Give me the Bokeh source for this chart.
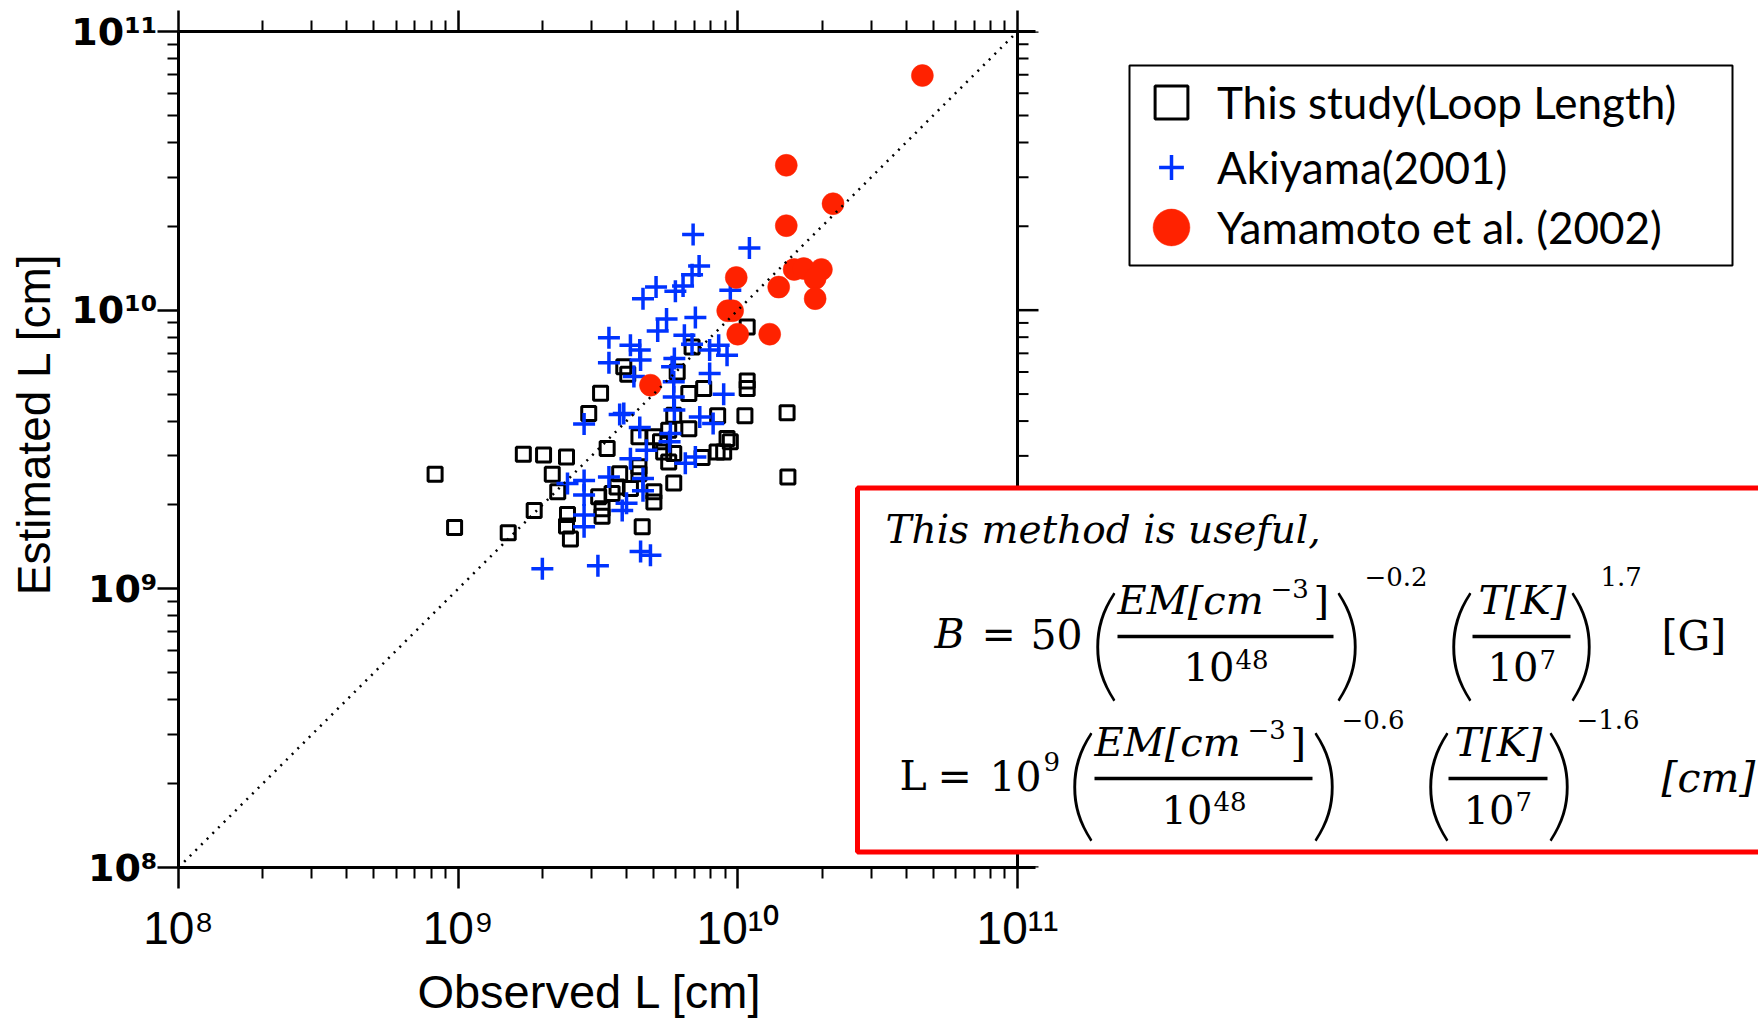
from bokeh.plotting import figure
from bokeh.models import (LogAxis, FixedTicker, CustomJSTickFormatter, Label, BoxAnnotation,
                          Legend, LegendItem, Range1d, Span)
from bokeh.embed import file_html
from bokeh.resources import INLINE

# ---------------- data ----------------
study_obs = [8.27e8, 9.71e8, 1.51e9, 1.87e9, 1.71e9, 2.02e9, 2.44e9, 2.17e9, 2.27e9, 2.46e9,
             2.44e9, 2.52e9, 2.93e9, 3.41e9, 3.18e9, 3.27e9, 3.27e9, 3.78e9, 3.70e9, 3.55e9,
             4.13e9, 4.55e9, 5.01e9, 5.01e9, 4.43e9, 4.43e9, 4.43e9, 5.01e9, 5.29e9, 5.43e9,
             5.90e9, 5.66e9, 5.90e9, 8.43e9, 8.90e9, 9.40e9, 7.45e9, 3.91e9, 4.04e9, 3.23e9,
             6.07e9, 6.86e9, 6.68e9, 7.55e9, 8.47e9, 1.06e10, 1.08e10, 1.08e10, 1.08e10, 5.90e9,
             6.68e9, 5.66e9, 9.15e9, 1.50e10, 1.51e10]
study_est = [2.58e9, 1.66e9, 1.59e9, 1.91e9, 3.04e9, 3.02e9, 2.97e9, 2.58e9, 2.23e9, 1.85e9,
             1.68e9, 1.51e9, 4.26e9, 3.19e9, 2.14e9, 1.94e9, 1.82e9, 2.59e9, 2.32e9, 2.20e9,
             2.29e9, 1.67e9, 2.23e9, 2.05e9, 2.59e9, 2.74e9, 3.51e9, 3.51e9, 3.37e9, 3.10e9,
             3.06e9, 2.85e9, 2.40e9, 3.10e9, 3.10e9, 3.37e9, 2.96e9, 6.26e9, 5.89e9, 5.03e9,
             6.00e9, 7.38e9, 5.02e9, 5.23e9, 4.18e9, 4.18e9, 5.57e9, 5.23e9, 8.71e9, 4.20e9,
             3.75e9, 3.71e9, 3.46e9, 4.28e9, 2.52e9]

aki_obs = [6.92e9, 1.10e10, 7.27e9, 6.86e9, 6.37e9, 5.98e9, 5.10e9, 4.58e9, 9.40e9, 5.56e9,
           7.05e9, 5.17e9, 3.46e9, 4.13e9, 4.46e9, 6.44e9, 6.86e9, 8.54e9, 7.93e9, 9.15e9,
           3.46e9, 4.49e9, 5.93e9, 5.82e9, 4.25e9, 7.93e9, 5.90e9, 8.90e9, 5.90e9, 5.93e9,
           3.91e9, 3.78e9, 7.31e9, 8.16e9, 2.82e9, 4.46e9, 5.74e9, 5.70e9, 4.71e9, 4.13e9,
           7.05e9, 6.49e9, 2.46e9, 2.82e9, 2.82e9, 2.82e9, 2.82e9, 3.46e9, 4.58e9, 4.58e9,
           4.00e9, 3.86e9, 4.49e9, 4.87e9, 2.00e9, 3.16e9]
aki_est = [1.87e10, 1.67e10, 1.44e10, 1.34e10, 1.22e10, 1.17e10, 1.21e10, 1.10e10, 1.18e10, 9.29e9,
           9.42e9, 8.41e9, 7.97e9, 7.48e9, 7.19e9, 8.13e9, 7.55e9, 7.48e9, 7.19e9, 6.89e9,
           6.47e9, 6.62e9, 6.71e9, 6.26e9, 5.78e9, 5.93e9, 5.53e9, 4.99e9, 4.88e9, 4.38e9,
           4.26e9, 4.22e9, 4.14e9, 3.92e9, 3.90e9, 3.79e9, 3.61e9, 3.37e9, 3.14e9, 2.93e9,
           2.97e9, 2.82e9, 2.39e9, 2.45e9, 2.17e9, 1.84e9, 1.67e9, 2.52e9, 2.49e9, 2.25e9,
           2.03e9, 1.91e9, 1.36e9, 1.32e9, 1.18e9, 1.21e9]

yama_obs = [4.57e10, 1.49e10, 1.49e10, 2.19e10, 9.87e9, 1.40e10, 1.59e10, 1.72e10, 1.99e10,
            1.89e10, 1.89e10, 9.20e9, 9.58e9, 9.99e9, 1.30e10, 4.87e9]
yama_est = [6.95e10, 3.31e10, 2.01e10, 2.41e10, 1.31e10, 1.21e10, 1.40e10, 1.41e10, 1.40e10,
            1.30e10, 1.10e10, 9.95e9, 9.95e9, 8.20e9, 8.20e9, 5.38e9]

one_to_one = [1e8, 1e11]

axis_min, axis_max = 1e8, 1e11
major_ticks = [1e8, 1e9, 1e10, 1e11]
minor_ticks = [m * 10.0 ** e for e in (8, 9, 10) for m in range(2, 10)]

series_labels = ["This study(Loop Length)", "Akiyama(2001)", "Yamamoto et al. (2002)"]
x_title = "Observed L [cm]"
y_title = "Estimated L [cm]"

NBSP = "\u00a0"

# ---------------- layout constants ----------------
FRAME_L, FRAME_T = 178, 31           # page position of frame left / top
PLOT_W, PLOT_H = 839, 836            # size of the square log-log box (3 decades each way)
FRAME_W = 1758 - FRAME_L             # frame extends to the right so annotations are not clipped
FRAME_B = FRAME_T + PLOT_H
PX_PER_DEC = PLOT_W / 3.0
x_end = 10 ** (8 + FRAME_W / PX_PER_DEC)
overshoot = 10 ** (18 / PX_PER_DEC)  # axis lines run a little past the last tick

p = figure(x_axis_type="log", y_axis_type="log",
           x_range=Range1d(axis_min, x_end), y_range=Range1d(axis_min, axis_max),
           frame_width=FRAME_W, frame_height=PLOT_H,
           min_border_left=FRAME_L, min_border_right=0, min_border_top=FRAME_T, min_border_bottom=146,
           output_backend="svg", toolbar_location=None,
           background_fill_color="white", border_fill_color="white", outline_line_color=None)
p.grid.visible = False

ticker = FixedTicker(ticks=major_ticks, minor_ticks=minor_ticks)
fmt = CustomJSTickFormatter(code="""
const sup = {"0":"\u2070","1":"\u00b9","2":"\u00b2","3":"\u00b3","4":"\u2074",
             "5":"\u2075","6":"\u2076","7":"\u2077","8":"\u2078","9":"\u2079"};
const e = Math.round(Math.log10(tick));
return "10" + String(e).split("").map(c => sup[c]).join("");
""")
blank_fmt = CustomJSTickFormatter(code="return '';")


def style_axis(ax, horizontal=True):
    ax.ticker = ticker
    ax.bounds = (axis_min, axis_max * overshoot) if horizontal else (axis_min, axis_max)
    ax.axis_line_width = 3
    ax.axis_line_color = "black"
    ax.major_tick_line_width = 2.5
    ax.minor_tick_line_width = 2
    ax.major_tick_line_color = "black"
    ax.minor_tick_line_color = "black"
    ax.major_tick_out = 21
    ax.major_tick_in = 0
    ax.minor_tick_out = 11
    ax.minor_tick_in = 0


xa = p.xaxis[0]
style_axis(xa)
xa.formatter = fmt
xa.major_label_text_font = "Liberation Sans"
xa.major_label_text_font_size = "46px"
xa.major_label_text_color = "black"
xa.major_label_standoff = 13
# trailing no-break spaces keep the title centred under the log-log box, not under the wide frame
xa.axis_label = x_title + NBSP * 58
xa.axis_label_text_font = "Liberation Sans"
xa.axis_label_text_font_style = "normal"
xa.axis_label_text_font_size = "47px"
xa.axis_label_text_color = "black"
xa.axis_label_standoff = 8

ya = p.yaxis[0]
style_axis(ya, horizontal=False)
ya.formatter = fmt
ya.major_label_text_font = "DejaVu Sans"
ya.major_label_text_font_style = "bold"
ya.major_label_text_font_size = "38px"
ya.major_label_text_color = "black"
ya.major_label_standoff = 0
ya.axis_label = NBSP * 4 + y_title
ya.axis_label_text_font = "Liberation Sans"
ya.axis_label_text_font_style = "normal"
ya.axis_label_text_font_size = "46px"
ya.axis_label_text_color = "black"
ya.axis_label_standoff = 8

top_ax = LogAxis(formatter=blank_fmt, major_label_text_font_size="1px",
                 major_label_text_color=None, major_label_standoff=0)
style_axis(top_ax)
p.add_layout(top_ax, "above")

# right-hand spine of the log-log box, with outward ticks
p.add_layout(Span(location=axis_max, dimension="height", line_color="black", line_width=3,
                  level="guide"))
k_major = 10 ** (21 / PX_PER_DEC)
k_minor = 10 ** (11 / PX_PER_DEC)
p.segment(x0=[axis_max] * len(major_ticks), y0=major_ticks,
          x1=[axis_max * k_major] * len(major_ticks), y1=major_ticks,
          line_color="black", line_width=2.5)
p.segment(x0=[axis_max] * len(minor_ticks), y0=minor_ticks,
          x1=[axis_max * k_minor] * len(minor_ticks), y1=minor_ticks,
          line_color="black", line_width=2)

# ---------------- data glyphs ----------------
r_sq = p.scatter(study_obs, study_est, marker="square", size=14, fill_color=None,
                 line_color="black", line_width=3)
r_cr = p.scatter(aki_obs, aki_est, marker="cross", size=22, line_color="#0033FF", line_width=3.5)
r_ci = p.scatter(yama_obs, yama_est, marker="circle", size=22, fill_color="#FF2200",
                 line_color="#FF2200", line_width=0.5)
p.line(one_to_one, one_to_one, line_color="black", line_width=2.5, line_dash="2 6")


# ---------------- helpers for screen-unit annotations (page pixel coords) ----------------
def box(x0, x1, y0, y1, **kw):
    p.add_layout(BoxAnnotation(left=x0 - FRAME_L, right=x1 - FRAME_L,
                               top=FRAME_B - y0, bottom=FRAME_B - y1,
                               left_units="screen", right_units="screen",
                               top_units="screen", bottom_units="screen", **kw))


def lab(text, X, Y, size, italic=False, font="DejaVu Serif", align="left", centre=False):
    # Y is the wanted baseline (or glyph centre when centre=True); labels anchor near mid-height
    ya_ = Y if centre else Y - 0.35 * size
    p.add_layout(Label(x=X - FRAME_L, y=FRAME_B - ya_, x_units="screen", y_units="screen",
                       text=text, text_font=font, text_font_size=f"{size}px",
                       text_font_style="italic" if italic else "normal",
                       text_align=align, text_baseline="alphabetic", text_color="black"))


# ---------------- legend ----------------
box(1129, 1732, 65, 265, fill_color="white", fill_alpha=1, line_color="black", line_alpha=1,
    line_width=2)


def add_legend(label, rend, glyph, standoff, gx, gy):
    # gx, gy: page position of glyph centre
    left = gx - glyph / 2
    bottom = gy + glyph / 2
    lg = Legend(items=[LegendItem(label=label, renderers=[rend])],
                location=(left - FRAME_L, FRAME_B - bottom),
                glyph_width=glyph, glyph_height=glyph, label_standoff=standoff,
                padding=0, margin=0, spacing=0, label_height=glyph,
                border_line_color=None, background_fill_alpha=0,
                label_text_font="Lato", label_text_font_size="44px", label_text_color="black")
    p.add_layout(lg, "center")


add_legend(series_labels[0], r_sq, 82, 5, 1171, 102)
add_legend(series_labels[1], r_cr, 62, 15, 1171, 167)
add_legend(series_labels[2], r_ci, 92, 0, 1171, 227)

# ---------------- equation box ----------------
box(857, 1800, 487.5, 851.5, fill_color="white", fill_alpha=1, line_color="#FF0000",
    line_alpha=1, line_width=5)

M, F, S, P = 41, 40, 26, 124
lab("This method is useful,", 885, 543, 39, italic=True)

eq_parts = [
    ("B", 934, 648, M, True), ("=", 981, 648, M, False), ("50", 1030, 648, M, False),
    ("EM[cm", 1117, 613, F, True), ("\u22123", 1270, 597, S, False), ("]", 1313, 613, F, False),
    ("10", 1183, 680, F, False), ("48", 1235, 668, S, False),
    ("\u22120.2", 1364, 585, S, False),
    ("T[K]", 1478, 613, F, True), ("10", 1487, 680, F, False), ("7", 1539, 668, S, False),
    ("1.7", 1600, 585, S, False), ("[G]", 1661, 650, M, False),
    ("L", 899, 790, M, False), ("=", 937, 790, M, False), ("10", 989, 790, M, False),
    ("9", 1043, 770, S, False),
    ("EM[cm", 1094, 755, F, True), ("\u22123", 1247, 738, S, False), ("]", 1290, 755, F, False),
    ("10", 1161, 823, F, False), ("48", 1213, 810, S, False),
    ("\u22120.6", 1341, 728, S, False),
    ("T[K]", 1454, 755, F, True), ("10", 1463, 823, F, False), ("7", 1515, 810, S, False),
    ("\u22121.6", 1576, 728, S, False), ("[cm]", 1661, 792, M, True),
]
for t, X, Y, sz, it in eq_parts:
    lab(t, X, Y, sz, italic=it)

parens = [("(", 1104, 637), (")", 1348, 637), ("(", 1460, 637), (")", 1582, 637),
          ("(", 1081, 777), (")", 1325, 777), ("(", 1437, 777), (")", 1560, 777)]
for t, X, Yc in parens:
    lab(t, X, Yc, P, font="Lato Thin", align="center", centre=True)

for x0, x1, yc in [(1117, 1333, 636), (1472, 1570, 636), (1094, 1312, 778), (1448, 1547, 778)]:
    box(x0, x1, yc - 1.8, yc + 1.8, fill_color="black", fill_alpha=1, line_color=None)

open("out.html", "w").write(file_html(p, INLINE))
